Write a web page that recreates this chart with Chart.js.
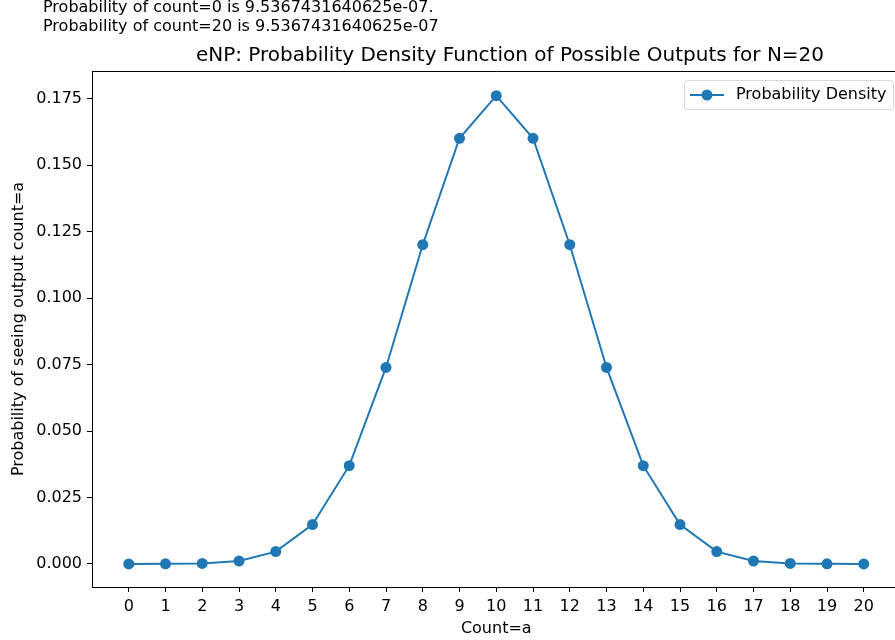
<!DOCTYPE html>
<html>
<head>
<meta charset="utf-8">
<script src="https://cdn.jsdelivr.net/npm/chart.js@4.4.1/dist/chart.umd.min.js"></script>
<style>
  html, body { margin: 0; padding: 0; background: #fff; overflow: hidden; }
  #wrap { position: relative; width: 910px; height: 640px; }
  #c { display: block; }
</style>
</head>
<body>
<div id="wrap"><canvas id="c" width="910" height="640"></canvas></div>
<script>
// Possible outputs (count a) for N=20 and the probability of each
const counts = [0, 1, 2, 3, 4, 5, 6, 7, 8, 9, 10, 11, 12, 13, 14, 15, 16, 17, 18, 19, 20];
const probabilities = [
  0.00000095, 0.0000191, 0.000181, 0.00109, 0.00462, 0.01479, 0.03696,
  0.07393, 0.12013, 0.16018, 0.17620, 0.16018, 0.12013, 0.07393,
  0.03696, 0.01479, 0.00462, 0.00109, 0.000181, 0.0000191, 0.00000095
];
const yTickValues = [0, 0.025, 0.05, 0.075, 0.1, 0.125, 0.15, 0.175];
const xTickValues = counts;
const headerLines = [
  'Probability of count=0 is 9.5367431640625e-07.',
  'Probability of count=20 is 9.5367431640625e-07'
];
const chartTitle = 'eNP: Probability Density Function of Possible Outputs for N=20';
const seriesLabel = 'Probability Density';
const xTitle = 'Count=a';
const yTitle = 'Probability of seeing output count=a';

const BLUE = '#1f77b4';
const FONT = '"DejaVu Sans", sans-serif';

const points = counts.map((c, i) => ({ x: c, y: probabilities[i] }));

const decorations = {
  id: 'decorations',
  afterDraw(chart) {
    const ctx = chart.ctx;
    const a = chart.chartArea;
    ctx.save();
    // top spine
    ctx.strokeStyle = '#000';
    ctx.lineWidth = 1;
    ctx.beginPath();
    ctx.moveTo(a.left, a.top + 0.5);
    ctx.lineTo(a.right, a.top + 0.5);
    ctx.stroke();

    // header text
    ctx.fillStyle = '#000';
    ctx.font = '16px ' + FONT;
    ctx.textAlign = 'left';
    ctx.textBaseline = 'middle';
    ctx.fillText(headerLines[0], 43, 8);
    ctx.fillText(headerLines[1], 43, 27);

    // title
    ctx.font = '20px ' + FONT;
    ctx.textAlign = 'center';
    ctx.fillText(chartTitle, 510, 56);

    // legend
    const lx = 684.5, ly = 80.5, lw = 209, lh = 29, r = 3;
    ctx.beginPath();
    ctx.moveTo(lx + r, ly);
    ctx.lineTo(lx + lw - r, ly);
    ctx.quadraticCurveTo(lx + lw, ly, lx + lw, ly + r);
    ctx.lineTo(lx + lw, ly + lh - r);
    ctx.quadraticCurveTo(lx + lw, ly + lh, lx + lw - r, ly + lh);
    ctx.lineTo(lx + r, ly + lh);
    ctx.quadraticCurveTo(lx, ly + lh, lx, ly + lh - r);
    ctx.lineTo(lx, ly + r);
    ctx.quadraticCurveTo(lx, ly, lx + r, ly);
    ctx.fillStyle = 'rgba(255,255,255,0.8)';
    ctx.fill();
    ctx.strokeStyle = '#d6d6d6';
    ctx.stroke();
    const my = ly + lh / 2;
    ctx.strokeStyle = BLUE;
    ctx.lineWidth = 2;
    ctx.beginPath();
    ctx.moveTo(690, my);
    ctx.lineTo(724, my);
    ctx.stroke();
    ctx.fillStyle = BLUE;
    ctx.beginPath();
    ctx.arc(707, my, 5.5, 0, Math.PI * 2);
    ctx.fill();
    ctx.fillStyle = '#000';
    ctx.font = '16px ' + FONT;
    ctx.textAlign = 'left';
    ctx.fillText(seriesLabel, 736, my);
    ctx.restore();
  }
};

new Chart(document.getElementById('c'), {
  type: 'scatter',
  data: {
    datasets: [{
      label: seriesLabel,
      data: points,
      showLine: true,
      borderColor: BLUE,
      backgroundColor: BLUE,
      borderWidth: 2,
      pointRadius: 5.5,
      pointHoverRadius: 5.5,
      pointBorderWidth: 0,
      tension: 0
    }]
  },
  options: {
    responsive: false,
    animation: false,
    devicePixelRatio: 1,
    layout: { padding: { top: 71, right: 9.5, left: 0, bottom: 0 } },
    plugins: { legend: { display: false }, tooltip: { enabled: false }, title: { display: false } },
    scales: {
      x: {
        type: 'linear',
        min: -1,
        max: 21,
        afterFit(s) { s.height = 53; },
        afterBuildTicks(s) { s.ticks = xTickValues.map(v => ({ value: v })); },
        ticks: {
          color: '#000',
          font: { family: FONT, size: 16 },
          padding: 5,
          maxRotation: 0,
          autoSkip: false,
          callback: v => String(v)
        },
        grid: { drawOnChartArea: false, drawTicks: true, tickLength: 5, color: '#000', tickWidth: 1 },
        border: { display: true, color: '#000', width: 1 },
        title: { display: true, text: xTitle, color: '#000', font: { family: FONT, size: 16 }, padding: { top: 0, bottom: 2 } }
      },
      y: {
        type: 'linear',
        min: -0.0087,
        max: 0.1855,
        afterFit(s) { s.width = 92; },
        afterBuildTicks(s) { s.ticks = yTickValues.map(v => ({ value: v })); },
        ticks: {
          color: '#000',
          font: { family: FONT, size: 16 },
          padding: 5,
          autoSkip: false,
          callback: v => Number(v).toFixed(3)
        },
        grid: { drawOnChartArea: false, drawTicks: true, tickLength: 5, color: '#000', tickWidth: 1 },
        border: { display: true, color: '#000', width: 1 },
        title: { display: true, text: yTitle, color: '#000', font: { family: FONT, size: 16 }, padding: { top: 9, bottom: 0 } }
      }
    }
  },
  plugins: [decorations]
});
</script>
</body>
</html>
